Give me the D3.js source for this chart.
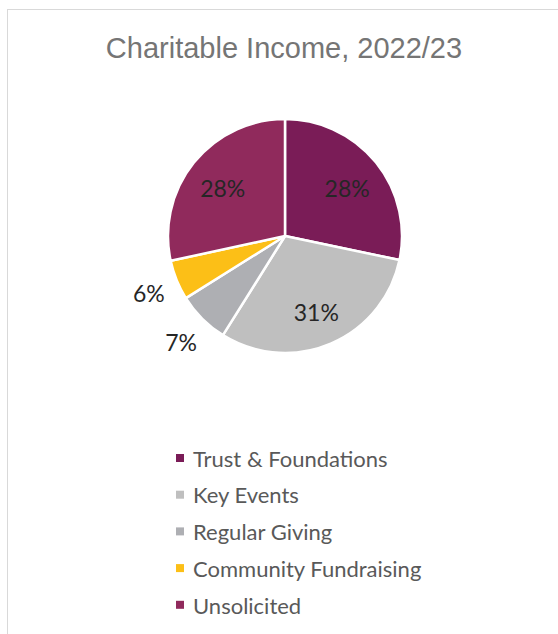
<!DOCTYPE html>
<html><head><meta charset="utf-8">
<script src="https://cdn.jsdelivr.net/npm/d3@7"></script>
<style>html,body{margin:0;padding:0;background:#fff;overflow:hidden}</style>
</head><body>
<svg id="chart" width="558" height="634"></svg>
<script>
const title = "Charitable Income, 2022/23";
const categories = ["Trust & Foundations", "Key Events", "Regular Giving", "Community Fundraising", "Unsolicited"];
const values = [28.3, 30.6, 7.2, 5.5, 28.4];
const colors = ["#7A1C57", "#BFBFBF", "#AEAFB3", "#FCBF17", "#902A5C"];

const svg = d3.select("#chart");
svg.append("rect").attr("x", 7.5).attr("y", 9.5).attr("width", 600).attr("height", 700)
  .attr("fill", "#fff").attr("stroke", "#D9D9D9").attr("stroke-width", 1);

svg.append("text").attr("x", 284).attr("y", 58).attr("text-anchor", "middle")
  .attr("font-family", "Liberation Sans, Arial, sans-serif").attr("font-size", 29)
  .attr("fill", "#757575").text(title);

const cx = 285, cy = 236, r = 117;
const total = d3.sum(values);
const pie = d3.pie().sort(null).value(d => d.v);
const data = categories.map((c, i) => ({c, v: values[i], col: colors[i]}));
const arcs = pie(data);
const arc = d3.arc().innerRadius(0).outerRadius(r);
const inLabel = d3.arc().innerRadius(80).outerRadius(80);
const outLabel = d3.arc().innerRadius(147).outerRadius(147);

const g = svg.append("g").attr("transform", `translate(${cx},${cy})`);
g.selectAll("path").data(arcs).join("path")
  .attr("d", arc).attr("fill", d => d.data.col)
  .attr("stroke", "#fff").attr("stroke-width", 2.5).attr("stroke-linejoin", "round");

g.selectAll("text.lbl").data(arcs).join("text").attr("class", "lbl")
  .attr("transform", d => {
    const p = (d.data.v / total < 0.1 ? outLabel : inLabel).centroid(d);
    return `translate(${p[0]},${p[1] + 3})`;
  })
  .attr("text-anchor", "middle").attr("dy", "0.35em")
  .attr("font-family", "Lato, Carlito, Calibri, sans-serif").attr("font-size", 23)
  .attr("fill", "#262626")
  .text(d => Math.round(d.data.v / total * 100) + "%");

const legend = svg.append("g");
const rows = legend.selectAll("g").data(data).join("g")
  .attr("transform", (d, i) => `translate(176,${458 + i * 36.7})`);
rows.append("rect").attr("x", 0).attr("y", -4).attr("width", 8).attr("height", 8).attr("fill", d => d.col);
rows.append("text").attr("x", 17).attr("y", 1).attr("dy", "0.35em")
  .attr("font-family", "Lato, Carlito, Calibri, sans-serif").attr("font-size", 22)
  .attr("fill", "#595959").text(d => d.c);
</script>
</body></html>
